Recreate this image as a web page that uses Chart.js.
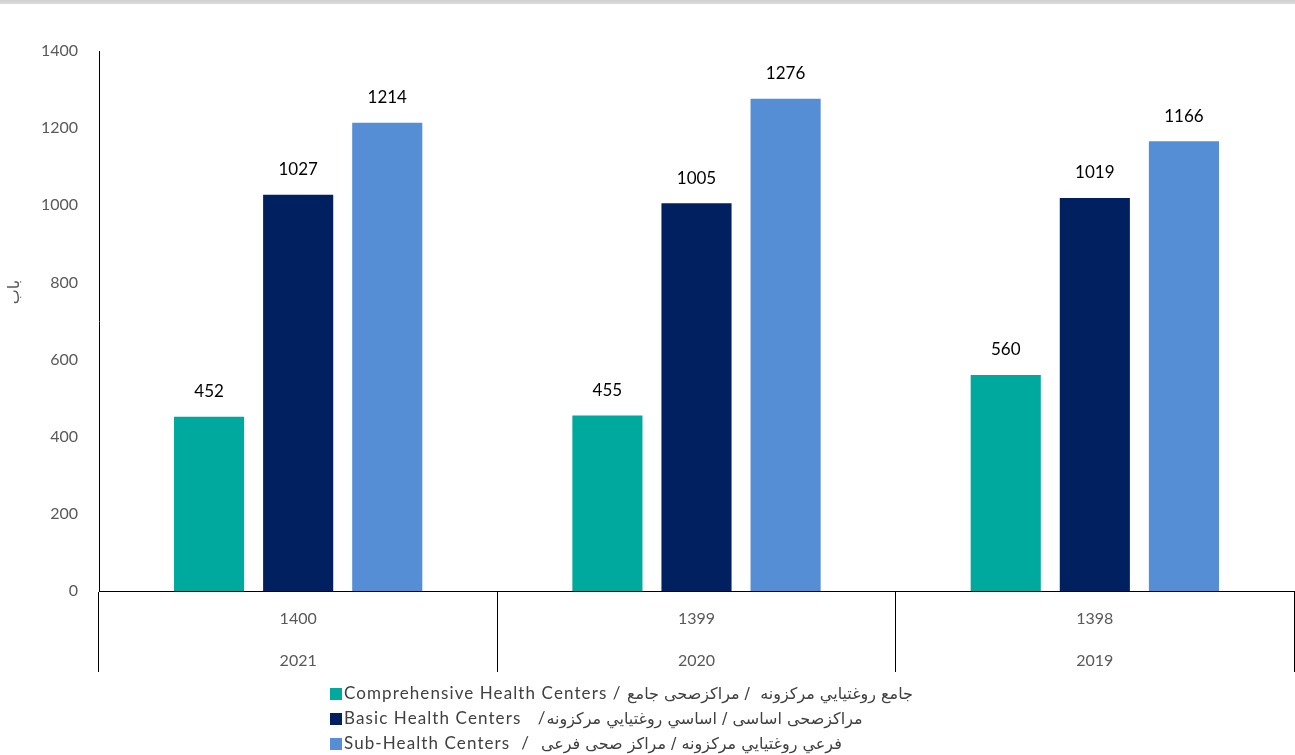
<!DOCTYPE html>
<html>
<head>
<meta charset="utf-8">
<script src="https://cdn.jsdelivr.net/npm/chart.js@4.4.1/dist/chart.umd.min.js"></script>
<style>
  html, body { margin: 0; padding: 0; background: #fff; }
  #wrap { position: relative; width: 1295px; height: 755px; overflow: hidden; }
  #topband { position: absolute; left: 0; top: 0; width: 1295px; height: 4px; background: linear-gradient(#cfcfcf, #dcdcdc); }
  #c { position: absolute; left: 0; top: 0; }
  #legend { position: absolute; left: 330px; top: 680px; direction: ltr; font-family: Lato, "DejaVu Sans", sans-serif; font-size: 17px; color: #404040; }
  .item { height: 25px; line-height: 25px; white-space: pre; }
  .sw { display: inline-block; width: 12px; height: 12px; margin-right: 2px; vertical-align: -1px; }
  .en { letter-spacing: 1.1px; }
  .ar { font-family: "DejaVu Sans", sans-serif; font-size: 16px; }
</style>
</head>
<body>
<div id="wrap">
  <canvas id="c" width="1295" height="755"></canvas>
  <div id="topband"></div>
  <div id="legend"></div>
</div>
<script>
const shamsiYears = ['1400', '1399', '1398'];
const gregorianYears = ['2021', '2020', '2019'];
const seriesNamesEn = [
  'Comprehensive Health Centers / ',
  'Basic Health Centers   /',
  'Sub-Health Centers  /  '
];
const seriesNamesLocal = [
  'جامع روغتیايي مرکزونه  / مراکزصحی جامع',
  'مراکزصحی اساسی / اساسي روغتیايي مرکزونه',
  'فرعي روغتیايي مرکزونه / مراکز صحی فرعی'
];
const comprehensive = [452, 455, 560];
const basic = [1027, 1005, 1019];
const subHealth = [1214, 1276, 1166];
const colors = ['#00A99D', '#002060', '#558ED5'];
const yTicks = [0, 200, 400, 600, 800, 1000, 1200, 1400];
const yTitle = 'باب';

const labels = shamsiYears.map((s, i) => [s, gregorianYears[i]]);
const seriesValues = [comprehensive, basic, subHealth];

const valueLabels = {
  id: 'valueLabels',
  afterDatasetsDraw(chart) {
    const ctx = chart.ctx;
    ctx.save();
    ctx.font = '17px Lato, "DejaVu Sans", sans-serif';
    ctx.fillStyle = '#000';
    ctx.textAlign = 'center';
    ctx.textBaseline = 'middle';
    chart.data.datasets.forEach((ds, di) => {
      chart.getDatasetMeta(di).data.forEach((bar, i) => {
        ctx.fillText(String(ds.data[i]), bar.x, bar.y - 25);
      });
    });
    ctx.restore();
  }
};

const yAxisTitle = {
  id: 'yAxisTitle',
  afterDraw(chart) {
    const ctx = chart.ctx;
    const y = chart.scales.y;
    const a = chart.chartArea;
    ctx.save();
    ctx.translate(y.left + 15, (a.top + a.bottom) / 2 - 29);
    ctx.rotate(-Math.PI / 2);
    ctx.font = '16px "DejaVu Sans", sans-serif';
    ctx.fillStyle = '#595959';
    ctx.textAlign = 'center';
    ctx.textBaseline = 'middle';
    ctx.fillText(yTitle, 0, 0);
    ctx.restore();
  }
};

new Chart(document.getElementById('c'), {
  type: 'bar',
  data: {
    labels: labels,
    datasets: seriesValues.map((vals, i) => ({
      label: seriesNamesEn[i] + seriesNamesLocal[i],
      data: vals,
      backgroundColor: colors[i],
      borderWidth: 0,
      categoryPercentage: 0.671,
      barPercentage: 0.787
    }))
  },
  options: {
    responsive: false,
    animation: false,
    layout: { padding: { top: 51, right: 1, left: 0, bottom: 0 } },
    plugins: {
      legend: { display: false },
      tooltip: { enabled: false }
    },
    scales: {
      x: {
        offset: true,
        grid: {
          display: true,
          offset: true,
          drawOnChartArea: false,
          drawTicks: true,
          tickLength: 81,
          color: '#000',
          lineWidth: 1
        },
        border: { display: true, color: '#000', width: 1 },
        ticks: {
          color: '#595959',
          font: { family: 'Lato, "DejaVu Sans", sans-serif', size: 16, lineHeight: 2.6 },
          padding: -74,
          maxRotation: 0,
          autoSkip: false
        },
        afterFit(scale) { scale.height = 164; }
      },
      y: {
        min: 0,
        max: 1400,
        afterBuildTicks(scale) { scale.ticks = yTicks.map(v => ({ value: v })); },
        grid: { display: false, drawTicks: false },
        border: { display: true, color: '#000', width: 1 },
        ticks: {
          color: '#595959',
          font: { family: 'Lato, "DejaVu Sans", sans-serif', size: 16 },
          padding: 21,
          callback: (v) => String(v)
        },
        title: { display: false, text: yTitle },
        afterFit(scale) { scale.width = 99; }
      }
    }
  },
  plugins: [valueLabels, yAxisTitle]
});

const legend = document.getElementById('legend');
seriesNamesEn.forEach((name, i) => {
  const row = document.createElement('div');
  row.className = 'item';
  const sw = document.createElement('span');
  sw.className = 'sw';
  sw.style.background = colors[i];
  row.appendChild(sw);
  const en = document.createElement('span');
  en.className = 'en';
  en.textContent = name;
  row.appendChild(en);
  const ar = document.createElement('span');
  ar.className = 'ar';
  ar.textContent = seriesNamesLocal[i];
  row.appendChild(ar);
  legend.appendChild(row);
});
</script>
</body>
</html>
